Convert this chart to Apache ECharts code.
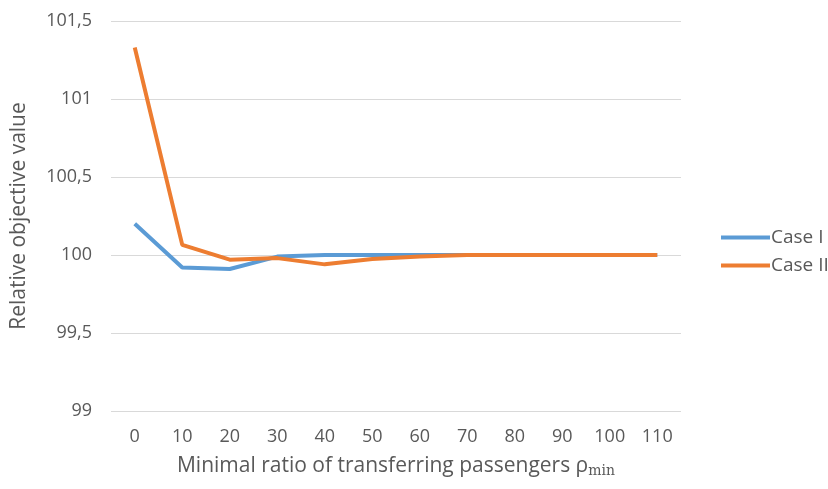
<!DOCTYPE html>
<html>
<head>
<meta charset="utf-8">
<script src="https://cdn.jsdelivr.net/npm/echarts@6/dist/echarts.min.js"></script>
<style>
html,body{margin:0;padding:0;background:#fff;}
#chart{width:828px;height:489px;}
</style>
</head>
<body>
<div id="chart"></div>
<script>
// minimal ratio (x axis categories)
var ratios = ['0','10','20','30','40','50','60','70','80','90','100','110'];
var caseOne = [100.2, 99.92, 99.91, 99.99, 100, 100, 100, 100, 100, 100, 100, 100];
var caseTwo = [101.33, 100.065, 99.97, 99.98, 99.94, 99.975, 99.99, 100, 100, 100, 100, 100];
var seriesNames = ['Case I', 'Case II'];
var colors = ['#5b9bd5', '#ed7d31'];

var myChart = echarts.init(document.getElementById('chart'));
var txt = '#595959';
var font = '"Open Sans", "Liberation Sans", sans-serif';

var option = {
    animation: false,
    color: colors,
    textStyle: { fontFamily: font },
    grid: { left: 111, right: 147, top: 21, bottom: 78 },
    legend: {
        orient: 'vertical',
        left: 716,
        top: 223,
        itemGap: 9,
        itemWidth: 49,
        itemHeight: 4,
        icon: 'rect',
        textStyle: { color: txt, fontSize: 19, fontFamily: font, padding: [0, 0, 0, -4] },
        data: seriesNames
    },
    xAxis: {
        type: 'category',
        data: ratios,
        boundaryGap: true,
        axisLine: { show: false },
        axisTick: { show: false },
        axisLabel: { color: txt, fontSize: 18, margin: 17 },
        name: 'Minimal ratio of transferring passengers ρ{sub|min}',
        nameLocation: 'middle',
        nameGap: 43,
        nameTextStyle: {
            color: txt, fontSize: 21,
            rich: { sub: { color: txt, fontSize: 14, padding: [10, 0, 0, 0], fontFamily: 'DejaVu Serif' } }
        }
    },
    yAxis: {
        type: 'value',
        min: 99,
        max: 101.5,
        interval: 0.5,
        axisLine: { show: false },
        axisTick: { show: false },
        splitLine: { lineStyle: { color: '#d9d9d9', width: 1 } },
        axisLabel: {
            color: txt, fontSize: 18, margin: 19,
            formatter: function (v) { return String(v).replace('.', ','); }
        },
        name: 'Relative objective value',
        nameLocation: 'middle',
        nameGap: 81,
        nameTextStyle: { color: txt, fontSize: 21 }
    },
    series: [
        {
            name: seriesNames[0], type: 'line', data: caseOne,
            symbol: 'none', lineStyle: { width: 4 }
        },
        {
            name: seriesNames[1], type: 'line', data: caseTwo,
            symbol: 'none', lineStyle: { width: 4 }
        }
    ]
};
myChart.setOption(option);
</script>
</body>
</html>
